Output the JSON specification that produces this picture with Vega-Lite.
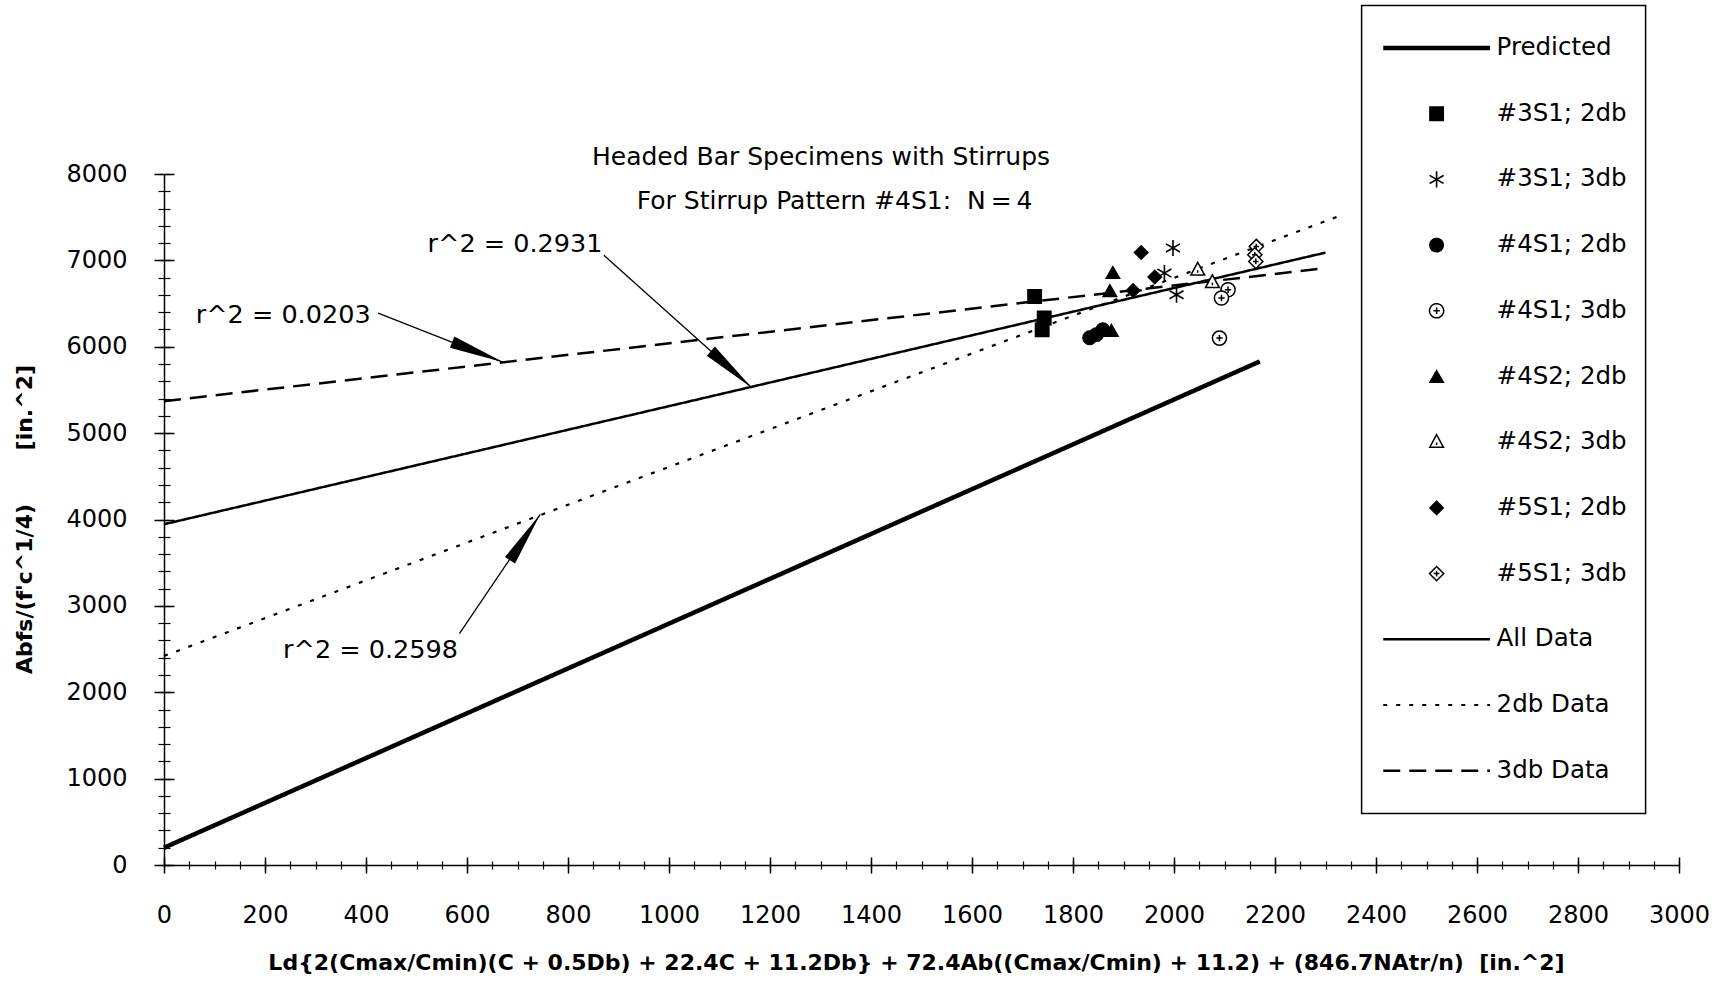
{
  "$schema": "https://vega.github.io/schema/vega-lite/v6.json",
  "width": 1515,
  "height": 691,
  "autosize": {"type": "none"},
  "padding": {"left": 164, "top": 174, "right": 40, "bottom": 116},
  "background": "white",
  "config": {
    "view": {"stroke": null},
    "axis": {"grid": false, "domainColor": "black", "tickColor": "black", "labelColor": "black", "titleColor": "black"},
    "legend": {
      "symbolFillColor": "transparent",
      "symbolStrokeColor": "black",
      "padding": 19,
      "strokeColor": "black",
      "strokeWidth": 1.5,
      "clipHeight": 47,
      "rowPadding": 18.7,
      "labelFont": "DejaVu Sans",
      "labelFontSize": 24.5,
      "labelColor": "black",
      "labelOffset": 4,
      "labelLimit": 400,
      "direction": "vertical"
    }
  },
  "resolve": {"axis": {"x": "independent", "y": "independent"}},
  "layer": [
    {
      "data": {"values": [
        {"series": "Predicted", "x": 0, "y": 200},
        {"series": "Predicted", "x": 2170, "y": 5830},
        {"series": "All Data", "x": 0, "y": 3945},
        {"series": "All Data", "x": 2300, "y": 7090},
        {"series": "2db Data", "x": 0, "y": 2420},
        {"series": "2db Data", "x": 2330, "y": 7520},
        {"series": "3db Data", "x": 0, "y": 5370},
        {"series": "3db Data", "x": 2300, "y": 6910}
      ]},
      "mark": {"type": "line", "color": "black"},
      "encoding": {
        "x": {"field": "x", "type": "quantitative", "scale": {"domain": [0, 3000]},
          "axis": {"orient": "bottom", "values": [0,200,400,600,800,1000,1200,1400,1600,1800,2000,2200,2400,2600,2800,3000],
            "format": "d", "ticks": true, "tickSize": 0, "domain": true, "domainWidth": 1.5,
            "labelFont": "DejaVu Sans", "labelFontSize": 24, "labelPadding": 38, "labelFlush": false, "labelOverlap": false,
            "title": "Ld{2(Cmax/Cmin)(C + 0.5Db) + 22.4C + 11.2Db} + 72.4Ab((Cmax/Cmin) + 11.2) + (846.7NAtr/n)\u00a0\u00a0[in.^2]",
            "titleFont": "DejaVu Sans", "titleFontSize": 22, "titleFontWeight": "bold",
            "titleX": 752, "titleY": 97, "titleAlign": "center", "titleBaseline": "middle"}},
        "y": {"field": "y", "type": "quantitative", "scale": {"domain": [0, 8000]},
          "axis": {"orient": "left", "values": [0,1000,2000,3000,4000,5000,6000,7000,8000],
            "format": "d", "ticks": true, "tickSize": 0, "domain": true, "domainWidth": 1.5,
            "labelFont": "DejaVu Sans", "labelFontSize": 24, "labelPadding": 37, "labelFlush": false, "labelOverlap": false,
            "title": "Abfs/(f'c^1/4)\u00a0\u00a0\u00a0\u00a0\u00a0\u00a0\u00a0[in.^2]",
            "titleFont": "DejaVu Sans", "titleFontSize": 22, "titleFontWeight": "bold",
            "titleX": -140, "titleY": 345, "titleAngle": 270, "titleAlign": "center", "titleBaseline": "middle"}},
        "strokeDash": {"field": "series", "type": "nominal",
          "scale": {"domain": ["Predicted", "#3S1; 2db", "#3S1; 3db", "#4S1; 2db", "#4S1; 3db", "#4S2; 2db", "#4S2; 3db", "#5S1; 2db", "#5S1; 3db", "All Data", "2db Data", "3db Data"],
            "range": [[1,0],[1,0],[1,0],[1,0],[1,0],[1,0],[1,0],[1,0],[1,0],[1,0],[4,9],[17,9]]},
          "legend": {"title": null, "orient": "none", "legendX": 1197.6, "legendY": -168.5}},
        "strokeWidth": {"field": "series", "type": "nominal",
          "scale": {"type": "ordinal", "domain": ["Predicted", "#3S1; 2db", "#3S1; 3db", "#4S1; 2db", "#4S1; 3db", "#4S2; 2db", "#4S2; 3db", "#5S1; 2db", "#5S1; 3db", "All Data", "2db Data", "3db Data"],
            "range": [4.5, 1.5, 1.6, 1.5, 1.5, 1.5, 1.5, 1.5, 1.5, 2.5, 2.2, 2.5]},
          "legend": {"title": null, "orient": "none", "legendX": 1197.6, "legendY": -168.5}}
      }
    },
    {
      "data": {"values": [
        {"series": "#3S1; 2db", "x": 1724, "y": 6582},
        {"series": "#3S1; 2db", "x": 1743, "y": 6332},
        {"series": "#3S1; 2db", "x": 1739, "y": 6197},
        {"series": "#3S1; 3db", "x": 1998, "y": 7144},
        {"series": "#3S1; 3db", "x": 1981, "y": 6853},
        {"series": "#3S1; 3db", "x": 2005, "y": 6602},
        {"series": "#4S1; 2db", "x": 1833, "y": 6104},
        {"series": "#4S1; 2db", "x": 1846, "y": 6140},
        {"series": "#4S1; 2db", "x": 1859, "y": 6197},
        {"series": "#4S1; 3db", "x": 2107, "y": 6660},
        {"series": "#4S1; 3db", "x": 2094, "y": 6564},
        {"series": "#4S1; 3db", "x": 2090, "y": 6100},
        {"series": "#4S2; 2db", "x": 1879, "y": 6860},
        {"series": "#4S2; 2db", "x": 1873, "y": 6650},
        {"series": "#4S2; 2db", "x": 1876, "y": 6190},
        {"series": "#4S2; 3db", "x": 2047, "y": 6890},
        {"series": "#4S2; 3db", "x": 2076, "y": 6745},
        {"series": "#5S1; 2db", "x": 1935, "y": 7092},
        {"series": "#5S1; 2db", "x": 1962, "y": 6807},
        {"series": "#5S1; 2db", "x": 1919, "y": 6652},
        {"series": "#5S1; 3db", "x": 2163, "y": 7161},
        {"series": "#5S1; 3db", "x": 2160, "y": 7065},
        {"series": "#5S1; 3db", "x": 2162, "y": 6988}
      ]},
      "mark": {"type": "point", "filled": true, "stroke": "black", "opacity": 1},
      "encoding": {
        "x": {"field": "x", "type": "quantitative", "scale": {"domain": [0, 3000]},
          "axis": {"orient": "bottom", "values": [0,200,400,600,800,1000,1200,1400,1600,1800,2000,2200,2400,2600,2800,3000],
            "domain": false, "labels": false, "ticks": true, "tickSize": 16, "offset": -8, "tickWidth": 1.5, "title": null}},
        "y": {"field": "y", "type": "quantitative", "scale": {"domain": [0, 8000]},
          "axis": {"orient": "left", "values": [0,1000,2000,3000,4000,5000,6000,7000,8000],
            "domain": false, "labels": false, "ticks": true, "tickSize": 20, "offset": -10, "tickWidth": 1.5, "title": null}},
        "shape": {"field": "series", "type": "nominal",
          "scale": {"domain": ["Predicted", "#3S1; 2db", "#3S1; 3db", "#4S1; 2db", "#4S1; 3db", "#4S2; 2db", "#4S2; 3db", "#5S1; 2db", "#5S1; 3db", "All Data", "2db Data", "3db Data"],
            "range": ["stroke", "square", "M 0 -1 L 0 1 M -0.87 -0.5 L 0.87 0.5 M -0.87 0.5 L 0.87 -0.5", "circle",
              "M 1 0 A 1 1 0 1 1 -1 0 A 1 1 0 1 1 1 0 Z M -0.45 0 L 0.45 0 M 0 -0.45 L 0 0.45",
              "triangle-up", "M 0 -1.1 L 1 0.75 L -1 0.75 Z M 0 0.05 L 0 0.4",
              "diamond", "M 0 -1 L 1 0 L 0 1 L -1 0 Z M -0.4 0 L 0.4 0 M 0 -0.4 L 0 0.4",
              "stroke", "stroke", "stroke"]},
          "legend": {"title": null, "orient": "none", "legendX": 1197.6, "legendY": -168.5}},
        "fill": {"field": "series", "type": "nominal",
          "scale": {"domain": ["Predicted", "#3S1; 2db", "#3S1; 3db", "#4S1; 2db", "#4S1; 3db", "#4S2; 2db", "#4S2; 3db", "#5S1; 2db", "#5S1; 3db", "All Data", "2db Data", "3db Data"],
            "range": ["transparent", "black", "transparent", "black", "white", "black", "white", "black", "white", "transparent", "transparent", "transparent"]},
          "legend": {"title": null, "orient": "none", "legendX": 1197.6, "legendY": -168.5}},
        "size": {"field": "series", "type": "nominal",
          "scale": {"type": "ordinal", "domain": ["Predicted", "#3S1; 2db", "#3S1; 3db", "#4S1; 2db", "#4S1; 3db", "#4S2; 2db", "#4S2; 3db", "#5S1; 2db", "#5S1; 3db", "All Data", "2db Data", "3db Data"],
            "range": [11385, 180, 260, 180, 200, 180, 190, 180, 200, 11385, 11385, 11385]},
          "legend": {"title": null, "orient": "none", "legendX": 1197.6, "legendY": -168.5}},
        "strokeWidth": {"field": "series", "type": "nominal",
          "scale": {"type": "ordinal", "domain": ["Predicted", "#3S1; 2db", "#3S1; 3db", "#4S1; 2db", "#4S1; 3db", "#4S2; 2db", "#4S2; 3db", "#5S1; 2db", "#5S1; 3db", "All Data", "2db Data", "3db Data"],
            "range": [4.5, 1.5, 1.6, 1.5, 1.5, 1.5, 1.5, 1.5, 1.5, 2.5, 2.2, 2.5]},
          "legend": {"title": null, "orient": "none", "legendX": 1197.6, "legendY": -168.5}}
      }
    },
    {
      "data": {"values": [
        {"x": 871, "y": 7060, "x2": 1164, "y2": 5525},
        {"x": 424, "y": 6390, "x2": 672, "y2": 5820},
        {"x": 585, "y": 2680, "x2": 745, "y2": 4060}
      ]},
      "mark": {"type": "rule", "color": "black", "strokeWidth": 1.3},
      "encoding": {
        "x": {"field": "x", "type": "quantitative", "scale": {"domain": [0, 3000]}, "axis": null},
        "y": {"field": "y", "type": "quantitative", "scale": {"domain": [0, 8000]}, "axis": null},
        "x2": {"field": "x2"},
        "y2": {"field": "y2"}
      }
    },
    {
      "data": {"values": [
        {"label": "r^2 = 0.2931", "x": 695, "y": 7187},
        {"label": "r^2 = 0.0203", "x": 236, "y": 6370},
        {"label": "r^2 = 0.2598", "x": 409, "y": 2490}
      ]},
      "mark": {"type": "text", "font": "DejaVu Sans", "fontSize": 25.5, "color": "black", "align": "center", "baseline": "middle"},
      "encoding": {
        "x": {"field": "x", "type": "quantitative", "scale": {"domain": [0, 3000]},
          "axis": {"orient": "bottom", "values": [0,50,100,150,200,250,300,350,400,450,500,550,600,650,700,750,800,850,900,950,1000,1050,1100,1150,1200,1250,1300,1350,1400,1450,1500,1550,1600,1650,1700,1750,1800,1850,1900,1950,2000,2050,2100,2150,2200,2250,2300,2350,2400,2450,2500,2550,2600,2650,2700,2750,2800,2850,2900,2950,3000],
            "domain": false, "labels": false, "ticks": true, "tickSize": 8, "offset": -4, "tickWidth": 1.2, "title": null}},
        "y": {"field": "y", "type": "quantitative", "scale": {"domain": [0, 8000]},
          "axis": {"orient": "left", "values": [0,200,400,600,800,1000,1200,1400,1600,1800,2000,2200,2400,2600,2800,3000,3200,3400,3600,3800,4000,4200,4400,4600,4800,5000,5200,5400,5600,5800,6000,6200,6400,6600,6800,7000,7200,7400,7600,7800,8000],
            "domain": false, "labels": false, "ticks": true, "tickSize": 12, "offset": -6, "tickWidth": 1.2, "title": null}},
        "text": {"field": "label"}
      }
    },
    {
      "data": {"values": [
        {"label": "Headed Bar Specimens with Stirrups", "x": 1301, "y": 8202},
        {"label": "For Stirrup Pattern #4S1:\u00a0\u00a0N\u2009=\u20094", "x": 1328, "y": 7683}
      ]},
      "mark": {"type": "text", "font": "DejaVu Sans", "fontSize": 25, "color": "black", "align": "center", "baseline": "middle"},
      "encoding": {
        "x": {"field": "x", "type": "quantitative", "scale": {"domain": [0, 3000]}, "axis": null},
        "y": {"field": "y", "type": "quantitative", "scale": {"domain": [0, 8000]}, "axis": null},
        "text": {"field": "label"}
      }
    },
    {
      "data": {"values": [{"x": 1164, "y": 5525}]},
      "mark": {"type": "point", "shape": "M 0 0 L -2 -0.22 L -2 0.22 Z", "size": 3025, "angle": 41.8, "filled": true, "color": "black", "opacity": 1},
      "encoding": {
        "x": {"field": "x", "type": "quantitative", "scale": {"domain": [0, 3000]}, "axis": null},
        "y": {"field": "y", "type": "quantitative", "scale": {"domain": [0, 8000]}, "axis": null}
      }
    },
    {
      "data": {"values": [{"x": 672, "y": 5820}]},
      "mark": {"type": "point", "shape": "M 0 0 L -2 -0.22 L -2 0.22 Z", "size": 3025, "angle": 21.4, "filled": true, "color": "black", "opacity": 1},
      "encoding": {
        "x": {"field": "x", "type": "quantitative", "scale": {"domain": [0, 3000]}, "axis": null},
        "y": {"field": "y", "type": "quantitative", "scale": {"domain": [0, 8000]}, "axis": null}
      }
    },
    {
      "data": {"values": [{"x": 745, "y": 4060}]},
      "mark": {"type": "point", "shape": "M 0 0 L -2 -0.22 L -2 0.22 Z", "size": 3025, "angle": -56.7, "filled": true, "color": "black", "opacity": 1},
      "encoding": {
        "x": {"field": "x", "type": "quantitative", "scale": {"domain": [0, 3000]}, "axis": null},
        "y": {"field": "y", "type": "quantitative", "scale": {"domain": [0, 8000]}, "axis": null}
      }
    }
  ]
}
